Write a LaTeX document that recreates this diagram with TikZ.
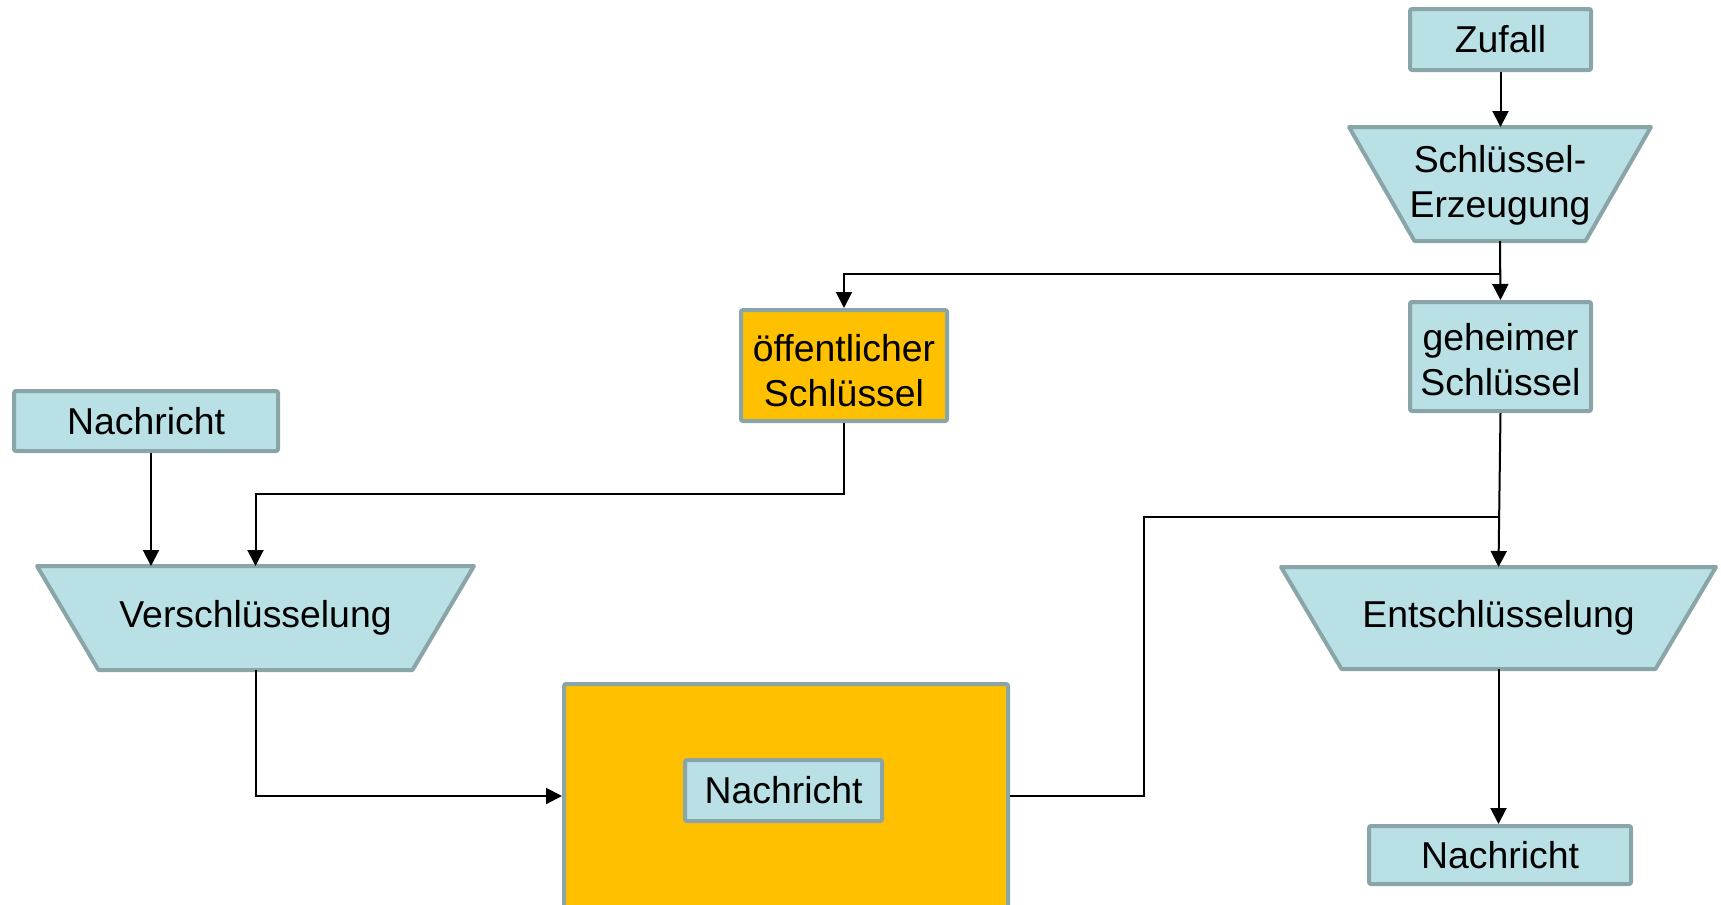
\documentclass[tikz,border=0pt]{standalone}
\usepackage{fontspec}
\setmainfont{Liberation Sans}
\usetikzlibrary{arrows.meta,backgrounds}
\definecolor{boxfill}{RGB}{185,224,228}
\definecolor{boxline}{RGB}{138,165,167}
\definecolor{keyfill}{RGB}{255,192,0}
% two centred lines, lowered by #1 without changing the box size
\newcommand{\stackedlabel}[3]{\raisebox{#1}[\height][\depth]{\begin{tabular}{@{}c@{}}#2\\#3\end{tabular}}}

\begin{document}
\begin{tikzpicture}[x=0.5pt,y=-0.5pt,
  every node/.style={font=\fontsize{18.7}{22.5}\selectfont, text=black, inner sep=0pt, align=center},
  box/.style={draw=boxline, line width=2pt, fill=boxfill, rounded corners=1pt},
  keybox/.style={box, fill=keyfill},
  proc/.style={outer sep=0pt},
  procshape/.style={fill=boxfill, draw=boxline, line width=2pt, line join=round},
  conn/.style={line width=1pt, draw=black},
  arr/.style={conn, -{Triangle[length=8pt,width=8pt]}},
]
\useasboundingbox (0,0) rectangle (1721,905);
\clip (0,0) rectangle (1721,905);

% key generation
\node[box, minimum width=90.5pt, minimum height=30.5pt] (zuf) at (1500.5,39.5) {Zufall};
\node[proc, minimum width=151pt, minimum height=57pt] (erz) at (1500,184) {\stackedlabel{-1pt}{Schlüssel-}{Erzeugung}};
\node[box, minimum width=90.5pt, minimum height=54.5pt] (geh) at (1500.5,356.5) {\stackedlabel{-3.9pt}{geheimer}{Schlüssel}};
\node[keybox, minimum width=103pt, minimum height=55.5pt] (oef) at (844,365.5) {\stackedlabel{-4.85pt}{öffentlicher}{Schlüssel}};

% encryption side
\node[box, minimum width=132pt, minimum height=30pt] (msgin) at (146,421) {Nachricht};
\node[proc, minimum width=218.5pt, minimum height=52pt] (ver) at (255.5,618) {Verschlüsselung};

% ciphertext container
\node[keybox, minimum width=222pt, minimum height=112pt] (cip) at (786,796) {};
\node[box, minimum width=98.5pt, minimum height=30.5pt] (msgc) at (783.5,790.5) {Nachricht};

% decryption side
\node[proc, minimum width=217.5pt, minimum height=51pt] (ent) at (1498.5,618) {Entschlüsselung};
\node[box, minimum width=131pt, minimum height=29pt] (msgout) at (1500,855) {Nachricht};

% trapezoid outlines behind the process labels
\begin{scope}[on background layer]
  \foreach \n/\d in {erz/32.75pt, ver/30.75pt, ent/30.25pt}
    \path[procshape] (\n.north west) -- (\n.north east)
      -- ([xshift=-\d]\n.south east) -- ([xshift=\d]\n.south west) -- cycle;
\end{scope}

% connectors
\draw[arr] (zuf.south) -- (zuf.south |- erz.north);
\draw[arr] (erz.south) -- (geh.north);
\draw[arr] (erz.south) -- ++(0,33) -| (oef.north);
\draw[arr] ([xshift=2.5pt]msgin.south) -- ([xshift=2.5pt]msgin.south |- ver.north);
\draw[arr] (oef.south) -- ++(0,71) -| (ver.north);
\draw[arr] (ver.south) |- (cip.west);
\coordinate (join) at (1499,517);
\draw[conn] (cip.east) -- ++(134,0) |- (join);
\draw[arr] (geh.south) -- (ent.north);
\draw[arr] (ent.south) -- (ent.south |- msgout.north);
\end{tikzpicture}
\end{document}
